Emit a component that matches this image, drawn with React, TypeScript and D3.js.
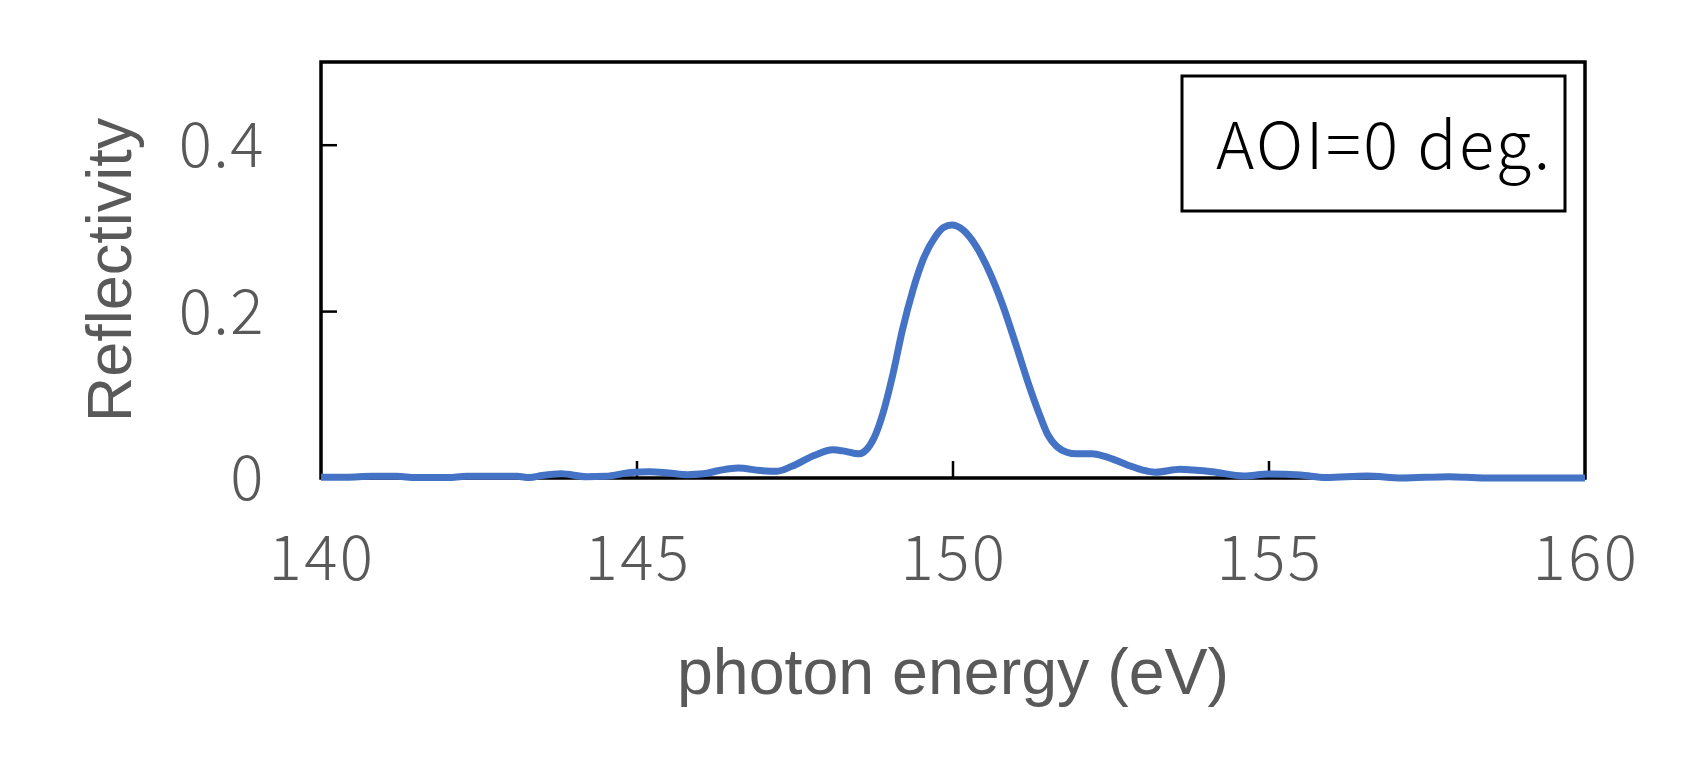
import React from "react";
import * as d3 from "d3";

const energy = [
  140.0, 140.4, 140.8, 141.2, 141.5, 142.0, 142.3, 142.8, 143.1, 143.3, 143.5, 143.8,
  144.2, 144.5, 144.9, 145.2, 145.5, 145.8, 146.05, 146.3, 146.6, 146.95, 147.2, 147.45,
  147.8, 148.1, 148.3, 148.5, 148.63, 148.75, 148.9, 149.05, 149.2, 149.37, 149.53, 149.72,
  149.85, 149.98, 150.16, 150.37, 150.58, 150.79, 151.0, 151.2, 151.35, 151.5, 151.64, 151.8,
  151.95, 152.2, 152.4, 152.75, 153.0, 153.2, 153.6, 153.8, 154.1, 154.6, 155.0, 155.5,
  155.9, 156.55, 157.1, 157.85, 158.4, 159.0, 160.0,
];
const reflectivity = [
  0.001, 0.001, 0.002, 0.002, 0.0005, 0.0005, 0.002, 0.002, 0.002, 0.0005, 0.003, 0.005,
  0.0015, 0.002, 0.0065, 0.0075, 0.006, 0.004, 0.005, 0.009, 0.012, 0.009, 0.008, 0.014,
  0.027, 0.034, 0.032, 0.029, 0.034, 0.048, 0.08, 0.125, 0.178, 0.227, 0.263, 0.29,
  0.301, 0.304, 0.298, 0.278, 0.247, 0.207, 0.159, 0.112, 0.08, 0.052, 0.038, 0.031,
  0.029, 0.029, 0.026, 0.016, 0.0095, 0.007, 0.0105, 0.0095, 0.0075, 0.0025, 0.0048, 0.0036,
  0.0005, 0.0024, 0, 0.0016, 0, 0, 0,
];
const xTicks = [140, 145, 150, 155, 160];
const yTicks = [0, 0.2, 0.4];
const yTickLabels = ["0", "0.2", "0.4"];
const xTitle = "photon energy (eV)";
const yTitle = "Reflectivity";
const legendText = "AOI=0 deg.";

export default function App() {
  const W = 1688, H = 779;
  const left = 321, right = 1585, top = 62, bottom = 478;
  const x = d3.scaleLinear().domain([140, 160]).range([left, right]);
  const y = d3.scaleLinear().domain([0, 0.5]).range([bottom, top]);
  const pts = energy.map((e, i) => [e, reflectivity[i]] as [number, number]);
  const line = d3
    .line<[number, number]>()
    .x((d) => x(d[0]))
    .y((d) => y(d[1]))
    .curve(d3.curveMonotoneX);
  const gray = "#595959";
  const tickFont = "'Noto Sans CJK JP', 'Noto Sans', sans-serif";
  const titleFont = "'Liberation Sans', Arial, sans-serif";
  return (
    <svg
      width={W}
      height={H}
      style={{ position: "absolute", left: 0, top: 0, background: "#fff" }}
    >
      <rect x={0} y={0} width={W} height={H} fill="#fff" />
      {/* y ticks */}
      {yTicks.slice(1).map((t) => (
        <line key={"yt" + t} x1={left} x2={left + 16} y1={y(t)} y2={y(t)} stroke="#000" strokeWidth={2.5} />
      ))}
      {/* x ticks */}
      {xTicks.slice(1, -1).map((t) => (
        <line key={"xt" + t} x1={x(t)} x2={x(t)} y1={bottom} y2={bottom - 17} stroke="#000" strokeWidth={2.5} />
      ))}
      {/* frame */}
      <rect x={left} y={top} width={right - left} height={bottom - top} fill="none" stroke="#000" strokeWidth={3.5} />
      {/* data line */}
      <path d={line(pts) || ""} fill="none" stroke="#4472C4" strokeWidth={7} strokeLinejoin="round" />
      {/* y tick labels */}
      {yTicks.map((t, i) => (
        <text key={"yl" + t} x={265} y={y(t) + 22} textAnchor="end" fontFamily={tickFont} fontWeight={300} fontSize={62} letterSpacing={1.5} fill={gray}>
          {yTickLabels[i]}
        </text>
      ))}
      {/* x tick labels */}
      {xTicks.map((t) => (
        <text key={"xl" + t} x={x(t) + 1} y={580} textAnchor="middle" fontFamily={tickFont} fontWeight={300} fontSize={62} letterSpacing={2.5} fill={gray}>
          {t}
        </text>
      ))}
      {/* axis titles */}
      <text x={953} y={694} textAnchor="middle" fontFamily={titleFont} fontSize={64.5} fill={gray}>
        {xTitle}
      </text>
      <text
        transform={`translate(131,270) rotate(-90)`}
        textAnchor="middle"
        fontFamily={titleFont}
        fontSize={63}
        fill={gray}
      >
        {yTitle}
      </text>
      {/* legend box */}
      <rect x={1182} y={76} width={383} height={135} fill="#fff" stroke="#000" strokeWidth={3} />
      <text x={1216} y={169} fontFamily={tickFont} fontWeight={300} fontSize={65} letterSpacing={2.5} fill="#000">
        {legendText}
      </text>
    </svg>
  );
}
